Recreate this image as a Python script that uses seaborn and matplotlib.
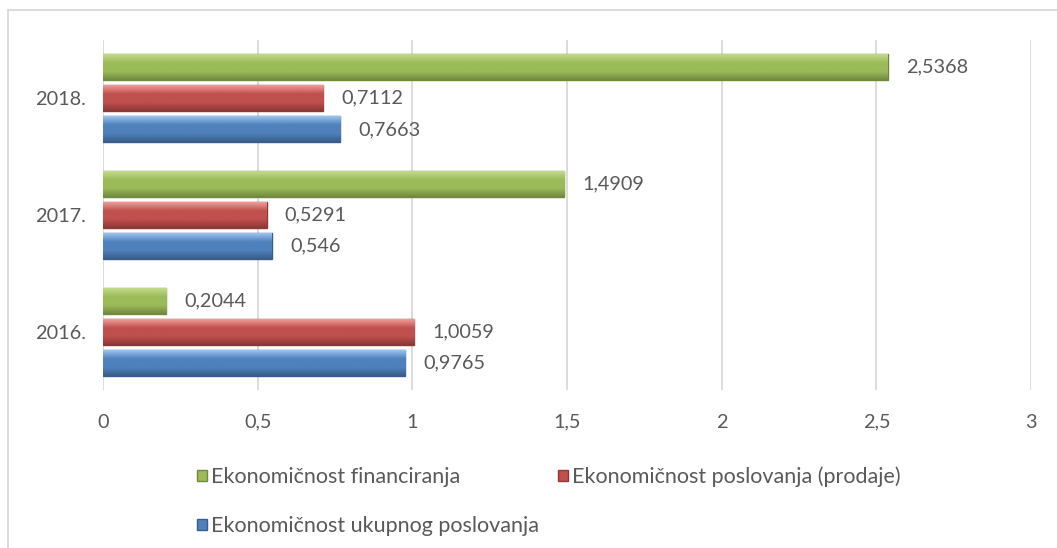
import matplotlib
matplotlib.use("Agg")
import matplotlib.pyplot as plt
import matplotlib.patches as mpatches
from matplotlib.colors import LinearSegmentedColormap
import numpy as np
import pandas as pd
import seaborn as sns

# Podaci
godine = ["2018.", "2017.", "2016."]
financiranja = [2.5368, 1.4909, 0.2044]
poslovanja = [0.7112, 0.5291, 1.0059]
ukupnog = [0.7663, 0.546, 0.9765]
serije = ["Ekonomičnost financiranja",
          "Ekonomičnost poslovanja (prodaje)",
          "Ekonomičnost ukupnog poslovanja"]
boje = ["#9BBB59", "#C0504D", "#4F81BD"]
svijetle = ["#C3DB8C", "#F09C9A", "#9CC3EE"]
rubovi = ["#71893F", "#8C3836", "#385D8A"]
x_ticks = [0, 0.5, 1, 1.5, 2, 2.5, 3]

df = pd.DataFrame({
    "godina": godine * 3,
    "serija": [serije[0]] * 3 + [serije[1]] * 3 + [serije[2]] * 3,
    "vrijednost": financiranja + poslovanja + ukupnog,
})

sns.set_theme(style="whitegrid")
plt.rcParams["font.family"] = ["Lato", "DejaVu Sans"]

fig = plt.figure(figsize=(10.57, 5.48), dpi=100)
ax = fig.add_axes([0.0974, 0.2883, 0.878, 0.6387])

sns.barplot(data=df, y="godina", x="vrijednost", hue="serija",
            order=godine, hue_order=serije, palette=boje, saturation=1,
            orient="h", width=0.8, gap=0.165, ax=ax, legend=False)

ylim = ax.get_ylim()
siva = "#595959"
grad = np.linspace(0, 1, 64).reshape(-1, 1)
for cont, boja, svj, rub in zip(ax.containers, boje, svijetle, rubovi):
    cmap = LinearSegmentedColormap.from_list(
        "b", [svj, boja, boja, rub])
    for p in cont:
        p.set_edgecolor(rub)
        p.set_linewidth(1.0)
        x0, y0, w, h = p.get_x(), p.get_y(), p.get_width(), p.get_height()
        img = ax.imshow(grad, extent=[x0, x0 + w, y0 + h, y0], aspect="auto",
                        cmap=cmap, origin="upper", zorder=p.get_zorder() + 0.1,
                        interpolation="bicubic")
        img.set_clip_path(p)
    labels = [f"{v:g}".replace(".", ",") for v in cont.datavalues]
    ax.bar_label(cont, labels=labels, padding=13, fontsize=14.3, color=siva)

ax.set_ylim(ylim)
ax.set_xlim(0, 3)
ax.set_xticks(x_ticks)
ax.set_xticklabels([f"{t:g}".replace(".", ",") for t in x_ticks])
ax.set_xlabel("")
ax.set_ylabel("")
ax.tick_params(axis="both", labelsize=14.3, colors=siva, length=0)
ax.tick_params(axis="x", pad=17)
ax.tick_params(axis="y", pad=12)
ax.grid(axis="x", color="#D9D9D9", linewidth=1.3)
ax.grid(axis="y", visible=False)
for s in ax.spines.values():
    s.set_visible(False)
ax.set_facecolor("white")

# redoslijed za dva stupca legende
red = [0, 2, 1]
handles = [mpatches.Patch(facecolor=boje[i], edgecolor=rubovi[i], label=serije[i])
           for i in red]
fig.legend(handles=handles, ncol=2, loc="upper left",
           bbox_to_anchor=(0.168, 0.184), frameon=False,
           fontsize=15.5, labelcolor=siva, handlelength=0.45,
           handleheight=0.45, handletextpad=0.2, columnspacing=0.9,
           labelspacing=1.35)

fig.patches.append(mpatches.Rectangle((0.0076, -0.05), 1.1, 1.0318,
                                      transform=fig.transFigure, fill=False,
                                      edgecolor="#D9D9D9", linewidth=1.3))

fig.savefig("out.png", dpi=100, facecolor="white")
